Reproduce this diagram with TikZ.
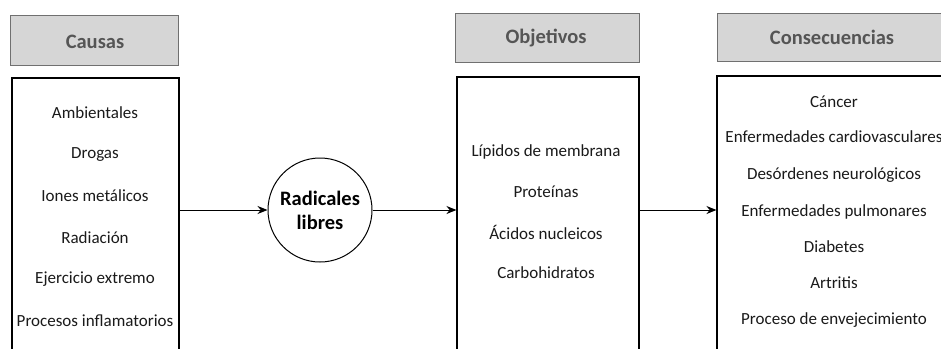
\documentclass[tikz,border=0pt]{standalone}
\usepackage{fontspec}
\setmainfont{Carlito}
\usetikzlibrary{arrows.meta}
\definecolor{hdrfill}{HTML}{D6D6D6}
\definecolor{hdrdraw}{HTML}{707070}
\definecolor{hdrtext}{HTML}{555555}
\definecolor{bodytext}{HTML}{1A1A1A}
\tikzset{
  x=1pt, y=-1pt,
  hdr/.style={draw=hdrdraw, line width=1pt, fill=hdrfill, text=hdrtext,
    font=\fontsize{20.5}{24}\selectfont\bfseries, inner sep=0pt},
  bodybox/.style={draw=black, line width=1.1pt, fill=white, inner sep=0pt},
  item/.style={text=bodytext, font=\fontsize{17}{20}\selectfont, inner sep=0pt, anchor=center},
  radnode/.style={circle, draw=black, line width=1pt, minimum size=104pt, inner sep=0pt,
    align=center, font=\fontsize{20.5}{24}\selectfont\bfseries},
  arr/.style={-{Stealth[length=10pt,width=8pt]}, line width=1pt}
}
\begin{document}
\begin{tikzpicture}
\useasboundingbox (0,0) rectangle (941,348);
\clip (0,0) rectangle (941,348);
\fill[white] (0,0) rectangle (941,348);

% headers
\node[hdr, minimum width=168pt, minimum height=50pt] (hcausas) at (94,40) {};
\node[text=hdrtext, font=\fontsize{20.5}{24}\selectfont\bfseries] (tcausas) at (95,42) {Causas};
\node[hdr, minimum width=184pt, minimum height=49pt] (hobj) at (547,37.5) {};
\node[text=hdrtext, font=\fontsize{20.5}{24}\selectfont\bfseries] (tobj) at (546,38) {Objetivos};
\node[hdr, minimum width=240pt, minimum height=48pt] (hcons) at (837,37) {};
\node[text=hdrtext, font=\fontsize{20.5}{24}\selectfont\bfseries] (tcons) at (832,37) {Consecuencias};

% body boxes
\node[bodybox, minimum width=167pt, minimum height=290pt] (bcausas) at (95.5,223) {};
\node[bodybox, minimum width=182pt, minimum height=290pt] (bobj) at (548,222) {};
\node[bodybox, minimum width=240pt, minimum height=290pt] (bcons) at (837,221) {};

% circle
\node[radnode] (rad) at (320,210) {Radicales\\libres};

% causas items
\node[item] (c1) at (95,113) {Ambientales};
\node[item] (c2) at (95,155) {Drogas};
\node[item] (c3) at (95,196) {Iones metálicos};
\node[item] (c4) at (95,238) {Radiación};
\node[item] (c5) at (95,279) {Ejercicio extremo};
\node[item] (c6) at (95,321) {Procesos inflamatorios};

% objetivos items
\node[item] (o1) at (546,152) {Lípidos de membrana};
\node[item] (o2) at (546,192) {Proteínas};
\node[item] (o3) at (546,232) {Ácidos nucleicos};
\node[item] (o4) at (546,273) {Carbohidratos};

% consecuencias items
\node[item] (k1) at (834,102) {Cáncer};
\node[item] (k2) at (834,137) {Enfermedades cardiovasculares};
\node[item] (k3) at (834,175) {Desórdenes neurológicos};
\node[item] (k4) at (834,212) {Enfermedades pulmonares};
\node[item] (k5) at (834,247) {Diabetes};
\node[item] (k6) at (834,283) {Artritis};
\node[item] (k7) at (834,320) {Proceso de envejecimiento};

% arrows
\draw[arr] (rad.west -| bcausas.east) -- (rad.west);
\draw[arr] (rad.east) -- (rad.east -| bobj.west);
\draw[arr] (rad.east -| bobj.east) -- (rad.east -| bcons.west);
\end{tikzpicture}
\end{document}
